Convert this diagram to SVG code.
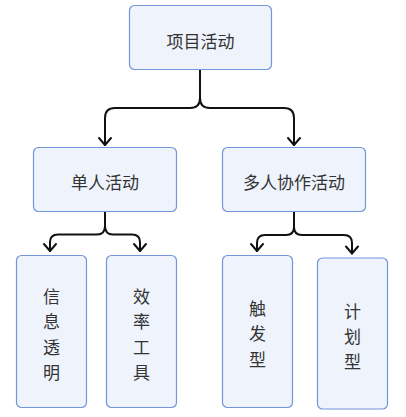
<svg xmlns="http://www.w3.org/2000/svg" width="406" height="417" viewBox="0 0 406 417">
<style>
.box{fill:#eef3fc;stroke:#7396da;stroke-width:1.2}
.t{font-family:"Noto Sans CJK SC","Noto Sans",sans-serif;font-size:17px;fill:#333;text-anchor:middle;dominant-baseline:central}
.c{fill:none;stroke:#111;stroke-width:2;stroke-linecap:round;stroke-linejoin:round}
</style>
<rect width="406" height="417" fill="#fff"/>
<g id="connectors">
<path class="c" d="M200,70 V98 Q200,108 190,108 H115 Q105,108 105,118 V145"/>
<path class="c" d="M200,98 Q200,108 210,108 H284 Q294,108 294,118 V145"/>
<path class="c" d="M99,138 L105,145 L111,138"/>
<path class="c" d="M288,138 L294,145 L300,138"/>
<path class="c" d="M105,212 V226 Q105,234.5 97,234.5 H58 Q50,234.5 50,242 V251"/>
<path class="c" d="M105,226 Q105,234.5 113,234.5 H132 Q140,234.5 140,242 V251"/>
<path class="c" d="M44,244 L50,251 L56,244"/>
<path class="c" d="M134,244 L140,251 L146,244"/>
<path class="c" d="M294,212 V227 Q294,235 286,235 H265 Q257,235 257,243 V251"/>
<path class="c" d="M294,227 Q294,235 302,235 H344 Q352,235 352,243 V253.5"/>
<path class="c" d="M251,244 L257,251 L263,244"/>
<path class="c" d="M346,246.5 L352,253.5 L358,246.5"/>
</g>
<g id="n-project"><rect class="box" x="129.5" y="5.5" width="142" height="64" rx="5"/><text class="t" x="200.5" y="40">项目活动</text></g>
<g id="n-single"><rect class="box" x="33.5" y="147.5" width="143" height="64" rx="5"/><text class="t" x="105" y="181">单人活动</text></g>
<g id="n-multi"><rect class="box" x="222.5" y="147.5" width="143" height="64" rx="5"/><text class="t" x="294" y="181">多人协作活动</text></g>
<g id="n-info"><rect class="box" x="16.5" y="255.5" width="70" height="152" rx="5"/>
<text class="t" x="51.5" y="295">信</text><text class="t" x="51.5" y="320.5">息</text><text class="t" x="51.5" y="346">透</text><text class="t" x="51.5" y="371.5">明</text></g>
<g id="n-tool"><rect class="box" x="106.5" y="255.5" width="70" height="152" rx="5"/>
<text class="t" x="141.5" y="295">效</text><text class="t" x="141.5" y="320.5">率</text><text class="t" x="141.5" y="346">工</text><text class="t" x="141.5" y="371.5">具</text></g>
<g id="n-trigger"><rect class="box" x="222.5" y="255.5" width="70" height="152" rx="5"/>
<text class="t" x="257.5" y="307">触</text><text class="t" x="257.5" y="332.5">发</text><text class="t" x="257.5" y="358">型</text></g>
<g id="n-plan"><rect class="box" x="317.5" y="258" width="70" height="151" rx="5"/>
<text class="t" x="352.5" y="310">计</text><text class="t" x="352.5" y="335">划</text><text class="t" x="352.5" y="360">型</text></g>
</svg>
